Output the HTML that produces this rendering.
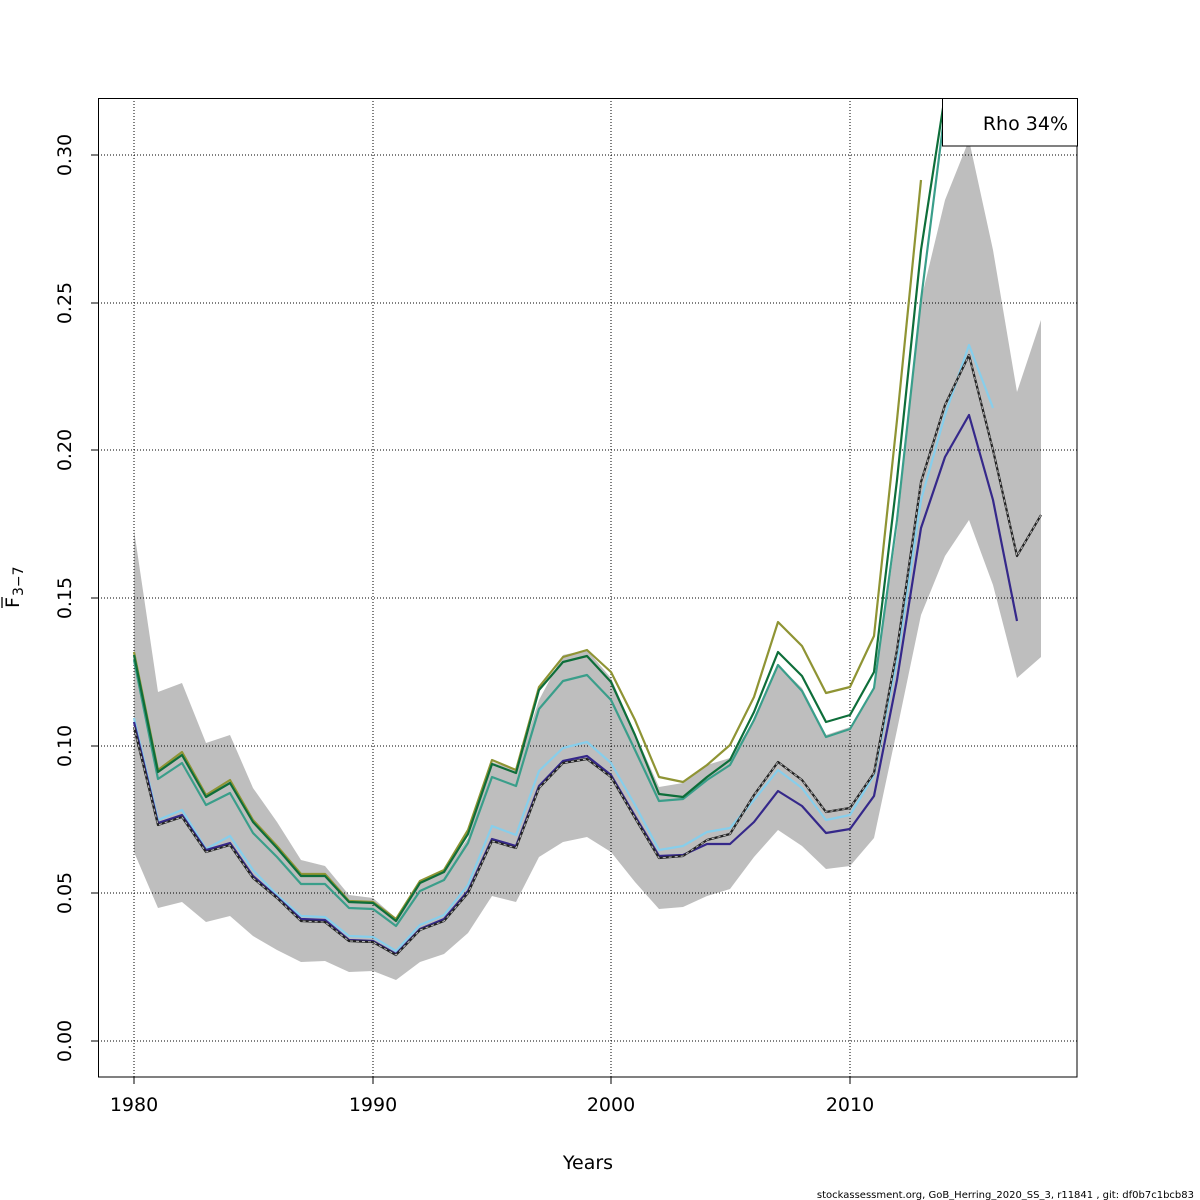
<!DOCTYPE html>
<html><head><meta charset="utf-8"><style>body{margin:0;background:#fff}svg{display:block;font-family:"DejaVu Sans","Liberation Sans",sans-serif}</style></head><body>
<svg width="1200" height="1200" viewBox="0 0 1200 1200">
<defs><clipPath id="c"><rect x="98" y="98" width="979" height="979"/></clipPath></defs>
<g clip-path="url(#c)">
<polygon fill="#bebebe" points="134,530 158,692 182,683 206,743 230,735 253,788 277,822 301,860 325,866 349,895 373,898 396,918 420,880 444,872 468,838 492,762 516,770 539,700 563,655 587,650 611,678 635,733 659,787 683,783 707,765 730,758 754,720 778,665 802,688 826,735 850,727 874,688 897,530 921,300 945,200 969,140 993,250 1017,392 1041,320 1041,657 1017,678 993,585 969,520 945,556 921,615 897,730 874,838 850,866 826,869 802,846 778,830 754,857 730,889 707,896 683,907 659,909 635,882 611,852 587,837 563,842 539,857 516,902 492,896 468,933 444,954 420,962 396,980 373,971 349,972 325,961 301,962 277,950 253,936 230,916 206,922 182,902 158,908 134,852"/>
<g stroke="#000" stroke-width="1" stroke-dasharray="1,2" fill="none">
<line x1="134" y1="98" x2="134" y2="1077"/><line x1="373" y1="98" x2="373" y2="1077"/><line x1="611" y1="98" x2="611" y2="1077"/><line x1="850" y1="98" x2="850" y2="1077"/>
<line x1="98" y1="1041" x2="1077" y2="1041"/><line x1="98" y1="893" x2="1077" y2="893"/><line x1="98" y1="746" x2="1077" y2="746"/><line x1="98" y1="598" x2="1077" y2="598"/><line x1="98" y1="450" x2="1077" y2="450"/><line x1="98" y1="303" x2="1077" y2="303"/><line x1="98" y1="155" x2="1077" y2="155"/>
</g>
<g fill="none" stroke-width="2.2" stroke-linejoin="round">
<polyline stroke="#8f9434" points="134,652 158,770 182,752 206,795 230,780 253,820 277,846 301,874 325,874 349,901 373,902 396,919 420,881 444,870 468,830 492,760 516,770 539,687 563,657 587,650 611,672 635,720 659,777 683,782 707,765 730,745 754,697 778,622 802,646 826,693 850,687 874,636 897,420 921,180"/>
<polyline stroke="#3a9e8a" points="134,660 158,779 182,763 206,805 230,793 253,833 277,857 301,884 325,884 349,908 373,909 396,926 420,891 444,880 468,843 492,777 516,786 539,709 563,681 587,675 611,700 635,750 659,801 683,799 707,780 730,765 754,720 778,665 802,691 826,737 850,729 874,688 897,520 921,300 945,110"/>
<polyline stroke="#0e6e3a" points="134,655 158,772 182,755 206,797 230,783 253,822 277,848 301,876 325,876 349,902 373,903 396,921 420,883 444,872 468,834 492,764 516,773 539,690 563,662 587,656 611,682 635,735 659,794 683,797 707,777 730,760 754,712 778,652 802,676 826,722 850,715 874,672 897,480 921,250 945,95"/>
<polyline stroke="#87ceeb" points="134,718 158,820 182,810 206,849 230,836 253,870 277,895 301,916 325,917 349,936 373,937 396,951 420,925 444,915 468,885 492,826 516,835 539,771 563,748 587,742 611,763 635,805 659,850 683,846 707,832 730,828 754,800 778,770 802,788 826,820 850,815 874,775 897,660 921,500 945,415 969,345 993,408"/>
<polyline stroke="#35288a" points="134,722 158,823 182,815 206,850 230,843 253,876 277,897 301,919 325,920 349,940 373,941 396,954 420,929 444,919 468,891 492,839 516,846 539,786 563,761 587,756 611,775 635,816 659,856 683,855 707,844 730,844 754,822 778,791 802,806 826,833 850,829 874,796 897,680 921,528 945,457 969,415 993,500 1017,621"/>
<polyline stroke="#222" points="134,727 158,825 182,817 206,852 230,845 253,878 277,898 301,921 325,922 349,941 373,942 396,955 420,930 444,921 468,893 492,841 516,848 539,788 563,763 587,759 611,777 635,818 659,858 683,856 707,840 730,834 754,795 778,762 802,780 826,812 850,808 874,773 897,650 921,482 945,405 969,355 993,450 1017,556 1041,515"/>
<polyline stroke="#bbb" stroke-width="1" stroke-dasharray="3,3" points="134,727 158,825 182,817 206,852 230,845 253,878 277,898 301,921 325,922 349,941 373,942 396,955 420,930 444,921 468,893 492,841 516,848 539,788 563,763 587,759 611,777 635,818 659,858 683,856 707,840 730,834 754,795 778,762 802,780 826,812 850,808 874,773 897,650 921,482 945,405 969,355 993,450 1017,556 1041,515"/>
</g>
</g>
<rect x="98.5" y="98.5" width="978.5" height="978.5" fill="none" stroke="#000" stroke-width="1"/>
<rect x="942.5" y="98.5" width="135" height="47.5" fill="#fff" stroke="#000" stroke-width="1"/>
<text x="1068" y="130" font-size="19" text-anchor="end">Rho 34%</text>
<g stroke="#000" stroke-width="1">
<line x1="134" y1="1077" x2="134" y2="1084"/><line x1="373" y1="1077" x2="373" y2="1084"/><line x1="611" y1="1077" x2="611" y2="1084"/><line x1="850" y1="1077" x2="850" y2="1084"/>
<line x1="91" y1="1041" x2="98" y2="1041"/><line x1="91" y1="893" x2="98" y2="893"/><line x1="91" y1="746" x2="98" y2="746"/><line x1="91" y1="598" x2="98" y2="598"/><line x1="91" y1="450" x2="98" y2="450"/><line x1="91" y1="303" x2="98" y2="303"/><line x1="91" y1="155" x2="98" y2="155"/>
</g>
<g font-size="19" text-anchor="middle">
<text x="134" y="1111">1980</text><text x="373" y="1111">1990</text><text x="611" y="1111">2000</text><text x="850" y="1111">2010</text>
<text x="588" y="1169">Years</text>
<text transform="translate(71,1041) rotate(-90)">0.00</text>
<text transform="translate(71,893) rotate(-90)">0.05</text>
<text transform="translate(71,746) rotate(-90)">0.10</text>
<text transform="translate(71,598) rotate(-90)">0.15</text>
<text transform="translate(71,450) rotate(-90)">0.20</text>
<text transform="translate(71,303) rotate(-90)">0.25</text>
<text transform="translate(71,155) rotate(-90)">0.30</text>
</g>
<g transform="translate(19,608) rotate(-90)">
<text x="0" y="0" font-size="19">F</text>
<line x1="0" y1="-17" x2="11" y2="-17" stroke="#000" stroke-width="1.3"/>
<text x="12" y="4" font-size="14">3−7</text>
</g>
<text x="1194" y="1198" font-size="10" text-anchor="end">stockassessment.org, GoB_Herring_2020_SS_3, r11841 , git: df0b7c1bcb83</text>
</svg>
</body></html>
